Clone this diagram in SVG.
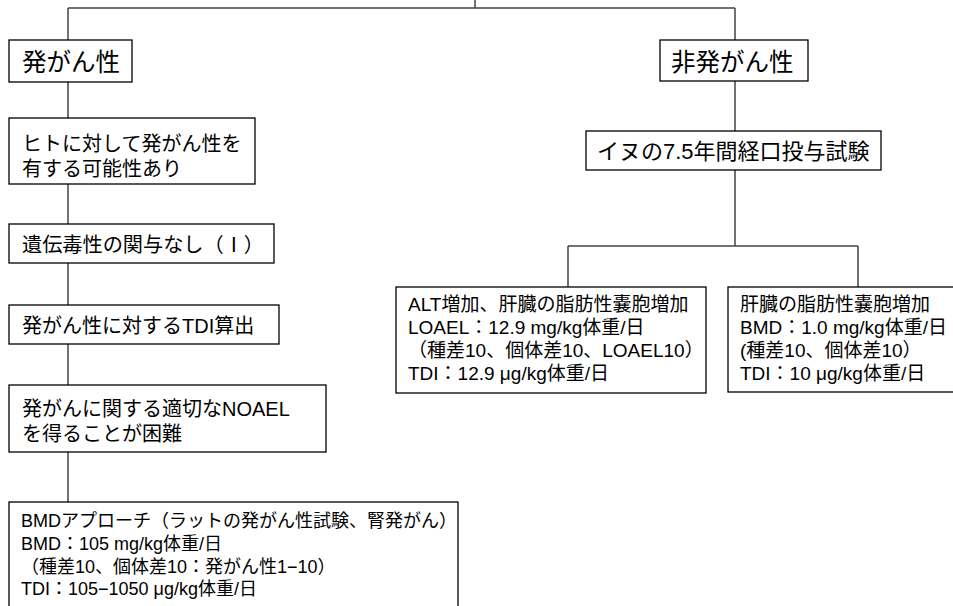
<svg xmlns="http://www.w3.org/2000/svg" width="953" height="606" viewBox="0 0 953 606">
<style>
.box{fill:#fff;stroke:#000;stroke-width:1.3}
.con{fill:none;stroke:#444;stroke-width:1.5}
text{font-family:"Liberation Sans","Noto Sans CJK JP",sans-serif;fill:#000}
.big{font-size:24.5px}
.mid{font-size:20px}
.dog{font-size:22px}
.sm{font-size:19px}
.bm{font-size:18px}
</style>
<rect width="953" height="606" fill="#fff"/>
<g id="connectors">
<path class="con" d="M475,0V8M68,8H735M68,8V40M735,8V40"/>
<path class="con" d="M68,82V118M68,184V224M68,263V305M68,344V385M68,452V502"/>
<path class="con" d="M735,81V131M735,170V246M568,246H858M568,246V287M858,246V287"/>
</g>
<g id="n-carc">
<rect class="box" x="9" y="40" width="123" height="42"/>
<text class="big" x="22" y="71">発がん性</text>
</g>
<g id="n-human">
<rect class="box" x="9" y="118" width="246" height="66"/>
<text class="mid" x="22" y="151">ヒトに対して発がん性を</text>
<text class="mid" x="22" y="176">有する可能性あり</text>
</g>
<g id="n-geno">
<rect class="box" x="9" y="224" width="265" height="39"/>
<text class="mid" x="22" y="252" textLength="242" lengthAdjust="spacingAndGlyphs">遺伝毒性の関与なし（Ⅰ）</text>
</g>
<g id="n-tdi">
<rect class="box" x="9" y="305" width="270" height="39"/>
<text class="mid" x="22" y="333">発がん性に対するTDI算出</text>
</g>
<g id="n-noael">
<rect class="box" x="9" y="385" width="317" height="67"/>
<text class="mid" x="22" y="416">発がんに関する適切なNOAEL</text>
<text class="mid" x="22" y="441">を得ることが困難</text>
</g>
<g id="n-bmd">
<rect class="box" x="9" y="502" width="449" height="120"/>
<text class="bm" x="21" y="527">BMDアプローチ（ラットの発がん性試験、腎発がん）</text>
<text class="bm" x="21" y="550">BMD：105 mg/kg体重/日</text>
<text class="bm" x="21" y="573">（種差10、個体差10：発がん性1−10）</text>
<text class="bm" x="21" y="595">TDI：105−1050 μg/kg体重/日</text>
</g>
<g id="n-noncarc">
<rect class="box" x="660" y="40" width="148" height="41"/>
<text class="big" x="671" y="71">非発がん性</text>
</g>
<g id="n-dog">
<rect class="box" x="586" y="131" width="295" height="39"/>
<text class="dog" x="597" y="159">イヌの7.5年間経口投与試験</text>
</g>
<g id="n-alt">
<rect class="box" x="396" y="287" width="310" height="106"/>
<text class="sm" x="408" y="311">ALT増加、肝臓の脂肪性嚢胞増加</text>
<text class="sm" x="408" y="334">LOAEL：12.9 mg/kg体重/日</text>
<text class="sm" x="408" y="357">（種差10、個体差10、LOAEL10）</text>
<text class="sm" x="408" y="380">TDI：12.9 μg/kg体重/日</text>
</g>
<g id="n-liver">
<rect class="box" x="728" y="287" width="240" height="105"/>
<text class="sm" x="740" y="311">肝臓の脂肪性嚢胞増加</text>
<text class="sm" x="740" y="334">BMD：1.0 mg/kg体重/日</text>
<text class="sm" x="740" y="357">(種差10、個体差10）</text>
<text class="sm" x="740" y="380">TDI：10 μg/kg体重/日</text>
</g>
</svg>
